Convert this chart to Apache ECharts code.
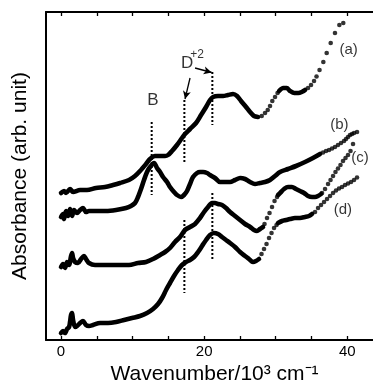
<!DOCTYPE html>
<html>
<head>
<meta charset="utf-8">
<script src="https://cdn.jsdelivr.net/npm/echarts@6/dist/echarts.min.js"></script>
<style>
  html, body { margin: 0; padding: 0; background: #fff; }
  #chart { width: 373px; height: 381px; }
</style>
</head>
<body>
<div id="chart"></div>
<script>
// wavenumber (10^3 cm-1) / absorbance (arb. unit, offset per curve)
var tickValues = [0, 5, 10, 15, 20, 25, 30, 35, 40, 45];
var labelValues = [0, 20, 40];

// (a)
var curveA = [[0,1.47],[0.42,1.49],[0.70,1.47],[1.26,1.51],[1.68,1.48],[2.66,1.50],[3.63,1.50],[4.89,1.52],
  [6.15,1.53],[7.27,1.55],[8.25,1.57],[9.50,1.60],[10.34,1.64],[11.04,1.69],[11.88,1.76],[12.44,1.81],
  [13.14,1.84],[13.84,1.84],[14.54,1.84],[14.96,1.85],[15.51,1.89],[16.21,1.95],[16.91,2.02],[17.33,2.06],
  [18.03,2.11],[18.87,2.17],[19.57,2.25],[20.27,2.33],[20.83,2.40],[21.25,2.43],[21.94,2.44],[22.64,2.44],
  [23.34,2.45],[24.04,2.46],[24.60,2.44],[25.16,2.39],[25.86,2.33],[26.42,2.28],[26.97,2.24],[27.53,2.23]];
var curveAHump = [[30.47,2.49],[31.07,2.52],[31.54,2.52],[32.01,2.49],[32.61,2.47],[33.17,2.47],[33.64,2.48],[34.10,2.50]];
var curveADots = [[28.05,2.24],[28.51,2.27],[28.89,2.30],[29.21,2.34],[29.53,2.39],[29.91,2.43],[30.26,2.47],
  [34.52,2.52],[34.94,2.55],[35.36,2.59],[35.71,2.635],[36.13,2.70],[36.66,2.78],[37.13,2.87],[37.69,2.97],
  [38.29,3.07],[38.90,3.15],[39.45,3.17]];

// (b)
var curveB = [[0,1.23],[0.28,1.26],[0.42,1.21],[0.70,1.29],[0.98,1.24],[1.26,1.31],[1.54,1.24],[1.82,1.30],
  [2.24,1.27],[2.66,1.30],[3.07,1.32],[3.49,1.28],[3.91,1.29],[4.75,1.29],[6.29,1.29],[7.69,1.30],[9.08,1.32],
  [9.78,1.34],[10.34,1.37],[10.76,1.43],[11.18,1.51],[11.60,1.60],[12.02,1.68],[12.44,1.73],[13.00,1.77],
  [13.42,1.72],[13.84,1.68],[14.26,1.63],[14.82,1.58],[15.23,1.53],[15.79,1.48],[16.21,1.45],[16.77,1.43],
  [17.19,1.45],[17.61,1.49],[18.03,1.56],[18.45,1.63],[19.01,1.67],[19.43,1.68],[19.85,1.68],[20.41,1.67],
  [20.82,1.65],[21.52,1.62],[22.22,1.58],[22.92,1.58],[23.62,1.58],[24.32,1.60],[25.02,1.62],[25.72,1.61],
  [26.42,1.58],[27.11,1.56],[27.81,1.57],[28.51,1.58],[29.21,1.60],[29.91,1.64],[30.61,1.68],[31.73,1.71],
  [32.84,1.74],[34.10,1.78],[35.21,1.82],[36.20,1.86]];
var curveBDots = [[36.62,1.875],[37.04,1.89],[37.46,1.90],[37.88,1.915],[38.29,1.93],[38.71,1.95],[39.13,1.97],
  [39.55,1.99],[39.83,2.01],[40.11,2.03],[40.39,2.05],[40.67,2.06],[40.95,2.07],[41.37,2.08]];

// (c)
var curveC = [[0,0.73],[0.28,0.76],[0.56,0.72],[0.84,0.78],[1.12,0.75],[1.40,0.84],[1.54,0.87],[1.68,0.82],
  [1.96,0.78],[2.38,0.77],[2.80,0.81],[3.21,0.84],[3.49,0.81],[3.91,0.77],[4.75,0.75],[6.15,0.75],[7.27,0.75],
  [8.39,0.75],[9.50,0.75],[10.76,0.77],[11.88,0.78],[12.86,0.81],[13.84,0.85],[14.54,0.88],[15.23,0.92],
  [15.93,0.98],[16.63,1.03],[17.33,1.10],[18.03,1.13],[18.73,1.16],[19.43,1.22],[19.99,1.28],[20.55,1.33],
  [21.10,1.37],[21.52,1.37],[21.94,1.36],[22.50,1.35],[23.06,1.32],[23.62,1.28],[24.32,1.24],[25.02,1.20],
  [25.72,1.16],[26.42,1.13],[26.97,1.10],[27.39,1.09],[27.81,1.11],[28.23,1.13]];
var curveCHump = [[30.33,1.45],[30.75,1.48],[31.17,1.51],[31.73,1.53],[32.28,1.53],[32.84,1.51],[33.40,1.49],
  [33.96,1.47],[34.52,1.44],[35.08,1.43],[35.50,1.43],[35.92,1.44],[36.34,1.46]];
var curveCDots = [[28.44,1.16],[28.79,1.22],[29.14,1.27],[29.49,1.33],[29.84,1.39],[30.19,1.43],
  [36.48,1.47],[36.90,1.51],[37.32,1.56],[37.67,1.60],[38.02,1.64],[38.36,1.68],[38.71,1.715],[39.06,1.75],
  [39.41,1.79],[39.76,1.82],[40.11,1.85],[40.46,1.89],[40.81,1.96]];

// (d)
var curveD = [[0,0.07],[0.28,0.09],[0.56,0.07],[0.84,0.11],[1.12,0.13],[1.26,0.18],[1.40,0.25],[1.54,0.27],
  [1.68,0.20],[1.96,0.13],[2.24,0.14],[2.66,0.17],[3.07,0.19],[3.49,0.15],[3.91,0.14],[4.47,0.15],[5.45,0.17],
  [6.57,0.17],[7.69,0.18],[8.81,0.20],[9.92,0.22],[11.04,0.24],[12.02,0.27],[12.86,0.31],[13.56,0.36],
  [14.12,0.42],[14.68,0.50],[15.23,0.57],[15.79,0.64],[16.35,0.70],[16.91,0.75],[17.47,0.78],[18.03,0.80],
  [18.59,0.83],[19.15,0.88],[19.71,0.94],[20.27,1.00],[20.83,1.05],[21.38,1.07],[21.94,1.06],[22.50,1.03],
  [23.06,1.00],[23.62,0.97],[24.32,0.93],[25.02,0.88],[25.72,0.84],[26.27,0.81],[26.83,0.78],[27.25,0.79],
  [27.67,0.81]];
var curveDHump = [[30.33,1.17],[30.89,1.19],[31.45,1.20],[32.01,1.21],[32.70,1.22],[33.40,1.22],[34.10,1.23],
  [34.66,1.24],[35.08,1.26]];
var curveDDots = [[28.02,0.86],[28.37,0.91],[28.72,0.96],[29.07,1.02],[29.42,1.07],[29.77,1.12],[30.12,1.15],
  [35.50,1.28],[35.92,1.32],[36.34,1.35],[36.76,1.38],[37.18,1.41],[37.60,1.44],[38.02,1.47],[38.43,1.495],
  [38.85,1.515],[39.27,1.53],[39.69,1.55],[40.11,1.565],[40.53,1.58],[40.95,1.60],[41.37,1.625]];

// dotted markers: [x, yTop, yBottom]
var guideLines = [[12.67,2.18,1.45],[17.24,2.40,1.78],[21.15,2.68,2.15],[17.24,1.20,0.47],[21.15,1.47,0.80]];
// arrows from D+2 label
var arrows = [[[18.03,2.62],[17.33,2.41]],[[18.73,2.72],[21.06,2.675]]];
// text notes: [text, x, y, fontSize]
var notes = [['B',12.86,2.40,17],['D',17.61,2.77,17],['+2',19.01,2.855,12],
  ['(a)',40.2,2.90,15],['(b)',38.9,2.15,15],['(c)',41.8,1.82,15],['(d)',39.4,1.30,15]];

var font = 'Liberation Sans, Arial, sans-serif';
var chart = echarts.init(document.getElementById('chart'));

var series = [];
[curveA, curveAHump, curveB, curveC, curveCHump, curveD, curveDHump].forEach(function (d) {
  series.push({
    type: 'line', data: d, showSymbol: false, smooth: 0.3, silent: true,
    lineStyle: { color: '#000', width: 4.6, cap: 'round', join: 'round' }
  });
});
[curveADots, curveBDots, curveCDots, curveDDots].forEach(function (d) {
  series.push({
    type: 'scatter', data: d, symbol: 'circle', symbolSize: 4.6, silent: true,
    itemStyle: { color: '#000' }
  });
});
guideLines.forEach(function (g) {
  series.push({
    type: 'line', data: [[g[0], g[1]], [g[0], g[2]]], showSymbol: false, silent: true,
    lineStyle: { color: '#000', width: 2, type: [2, 2] }
  });
});
series.push({
  type: 'line', data: [], silent: true,
  markLine: {
    silent: true, symbol: ['none', 'arrow'], symbolSize: [6, 8],
    label: { show: false },
    lineStyle: { color: '#000', width: 1.3, type: 'solid' },
    data: arrows.map(function (a) { return [{ coord: a[0] }, { coord: a[1] }]; })
  }
});
series.push({
  type: 'scatter', silent: true, symbolSize: 1,
  itemStyle: { color: 'rgba(0,0,0,0)' },
  data: notes.map(function (n) {
    return { value: [n[1], n[2]], name: n[0], label: { fontSize: n[3], color: '#000' } };
  }),
  label: {
    show: true, position: 'inside', color: '#000', fontFamily: font,
    formatter: function (p) { return p.name; }
  }
});

chart.setOption({
  animation: false,
  grid: { left: 46, top: 12, right: -10, bottom: 41, outerBoundsMode: 'none' },
  xAxis: [{
    type: 'value', min: -2.1, max: 45, position: 'bottom',
    name: 'Wavenumber/10\u00B3 cm\u207B\u00B9', nameLocation: 'middle', nameGap: 22,
    nameTextStyle: { fontFamily: font, fontSize: 21, color: '#000' },
    axisLine: { show: true, onZero: false, lineStyle: { color: '#000', width: 2 } },
    axisTick: { show: true, inside: true, length: 4, customValues: tickValues, lineStyle: { color: '#000', width: 1.3 } },
    axisLabel: { show: true, customValues: labelValues, margin: 4, fontFamily: font, fontSize: 15, color: '#000' },
    splitLine: { show: false }
  }, {
    type: 'value', min: -2.1, max: 45, position: 'top',
    axisLine: { show: true, onZero: false, lineStyle: { color: '#000', width: 2 } },
    axisTick: { show: true, inside: true, length: 4, customValues: tickValues, lineStyle: { color: '#000', width: 1.3 } },
    axisLabel: { show: false },
    splitLine: { show: false }
  }],
  yAxis: {
    type: 'value', min: 0, max: 3.28,
    name: 'Absorbance (arb. unit)', nameLocation: 'middle', nameGap: 15,
    nameTextStyle: { fontFamily: font, fontSize: 21, color: '#000' },
    axisLine: { show: true, onZero: false, lineStyle: { color: '#000', width: 2 } },
    axisTick: { show: false },
    axisLabel: { show: false },
    splitLine: { show: false }
  },
  series: series
});
</script>
</body>
</html>
